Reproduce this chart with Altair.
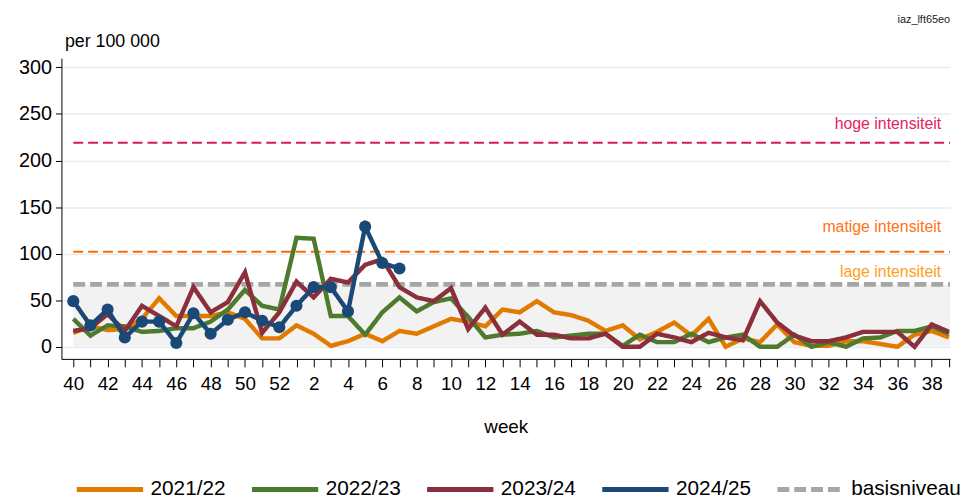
import altair as alt
import pandas as pd

# x positions: season weeks 40..52, 1..39
week_labels = [str(w) for w in list(range(40, 53)) + list(range(1, 40))]

s2122 = [15, 22, 18, 19, 30, 52, 33, 33, 33, 37, 30, 9, 9, 23, 14, 1, 6, 14, 6, 17,
         14, 22, 30, 27, 22, 40, 37, 49, 37, 34, 28, 17, 23, 8, 16, 26, 12, 30, 0, 9,
         5, 24, 5, 1, 1, 6, 6, 3, 0, 13, 17, 10]
s2223 = [30, 12, 23, 22, 16, 17, 20, 20, 27, 40, 61, 44, 40, 117, 116, 33, 33, 13, 37, 53,
         38, 48, 52, 32, 10, 13, 14, 17, 10, 12, 14, 14, 1, 13, 5, 5, 14, 5, 10, 13,
         0, 0, 13, 0, 5, 0, 9, 10, 17, 17, 22, 14]
s2324 = [17, 20, 35, 17, 44, 33, 22, 64, 37, 48, 80, 15, 37, 70, 53, 73, 69, 88, 94, 64,
         53, 49, 63, 19, 42, 13, 27, 13, 13, 9, 9, 14, 0, 0, 14, 10, 5, 15, 10, 7,
         49, 26, 12, 6, 6, 10, 16, 16, 16, 0, 24, 16]
s2425 = [49, 23, 40, 10, 27, 27, 4, 36, 14, 29, 37, 28, 21, 44, 64, 64, 38, 129, 90, 84]

series_names = ["2021/22", "2022/23", "2023/24", "2024/25"]
series_colors = ["#E07B00", "#4E7A2E", "#8A2F3B", "#1B4977"]
basis_name = "basisniveau"
basis_color = "#A6A6A6"

basis_value = 67
matig_value = 102
hoog_value = 219

rows = []
for name, vals in zip(series_names, [s2122, s2223, s2324, s2425]):
    for i, v in enumerate(vals):
        rows.append({"idx": i, "value": v, "series": name})
df = pd.DataFrame(rows)

XMIN, XMAX = -0.69, 51.07
W, H = 898, 304

x_scale = alt.Scale(domain=[XMIN, XMAX], nice=False, zero=False)
y_scale = alt.Scale(domain=[-13, 310], nice=False, zero=False)

label_list = [lab if i % 2 == 0 else "" for i, lab in enumerate(week_labels)]
label_expr = "[" + ",".join("'" + l + "'" for l in label_list) + "][datum.value]"

x_axis = alt.Axis(values=list(range(len(week_labels))), labelExpr=label_expr, title="week",
                  tickSize=8, labelFontSize=19, titleFontSize=19, titleFontWeight="normal",
                  grid=False, domainColor="black", tickColor="black", labelColor="black",
                  titleColor="black", labelPadding=8, titlePadding=24, labelFlush=False,
                  labelOverlap=False)
y_axis = alt.Axis(values=[0, 50, 100, 150, 200, 250, 300], title="per 100 000",
                  titleAngle=0, titleAlign="left", titleX=3, titleY=-12,
                  titleBaseline="alphabetic", titleFontSize=18, titleFontWeight="normal",
                  titleColor="black", grid=True, gridColor="#E6EDF2", gridWidth=1.5,
                  tickSize=6, labelFontSize=20, labelPadding=4, labelColor="black",
                  domainColor="black", tickColor="black")

legend_domain = series_names + [basis_name]
legend_range = series_colors + [basis_color]
dash_range = [[1, 0]] * 4 + [[12, 5]]

leg = alt.Legend(orient="none", legendX=13, legendY=400, direction="horizontal", columns=5,
                 gridAlign="each", symbolType="stroke", symbolSize=4489, symbolStrokeWidth=5,
                 labelFontSize=21, labelOffset=5, columnPadding=16, labelColor="black",
                 title=None, padding=0)

color_enc = alt.Color("series:N", scale=alt.Scale(domain=legend_domain, range=legend_range),
                      legend=leg, title=None)
dash_enc = alt.StrokeDash("series:N", scale=alt.Scale(domain=legend_domain, range=dash_range),
                          legend=leg, title=None)

band_df = pd.DataFrame({"x0": [0], "x1": [XMAX], "y0": [0], "y1": [basis_value]})
band = alt.Chart(band_df).mark_rect(color="#F2F2F2").encode(
    x=alt.X("x0:Q", scale=x_scale, axis=x_axis), x2="x1:Q",
    y=alt.Y("y0:Q", scale=y_scale, axis=y_axis), y2="y1:Q")


def thr_line(value, color):
    d = pd.DataFrame({"x0": [0], "x1": [XMAX], "v": [value]})
    return alt.Chart(d).mark_rule(strokeWidth=2, strokeDash=[10, 5], color=color).encode(
        x=alt.X("x0:Q", scale=x_scale, axis=x_axis), x2="x1:Q",
        y=alt.Y("v:Q", scale=y_scale, axis=y_axis))


thr_hoog = thr_line(hoog_value, "#D81B50")
thr_matig = thr_line(matig_value, "#FF6A00")

basis_df = pd.DataFrame({"x0": [0], "x1": [XMAX], "value": [basis_value], "series": [basis_name]})
basis = alt.Chart(basis_df).mark_rule(strokeWidth=5).encode(
    x=alt.X("x0:Q", scale=x_scale, axis=x_axis), x2="x1:Q",
    y=alt.Y("value:Q", scale=y_scale, axis=y_axis),
    color=color_enc, strokeDash=dash_enc)

lines = alt.Chart(df).mark_line(strokeWidth=4.5).encode(
    x=alt.X("idx:Q", scale=x_scale, axis=x_axis),
    y=alt.Y("value:Q", scale=y_scale, axis=y_axis),
    color=color_enc, strokeDash=dash_enc)

points = alt.Chart(df[df.series == "2024/25"]).mark_circle(size=150, opacity=1,
                                                           color="#1B4977").encode(
    x=alt.X("idx:Q", scale=x_scale, axis=x_axis),
    y=alt.Y("value:Q", scale=y_scale, axis=y_axis))


def thr_label(text, value, color, dy):
    d = pd.DataFrame({"v": [value], "t": [text]})
    return alt.Chart(d).mark_text(align="right", baseline="alphabetic", dy=dy, fontSize=16,
                                  color=color).encode(
        x=alt.value(889), y=alt.Y("v:Q", scale=y_scale, axis=y_axis), text="t:N")


lab_hoog = thr_label("hoge intensiteit", hoog_value, "#E2245E", -14)
lab_matig = thr_label("matige intensiteit", matig_value, "#FF7417", -20)
lab_laag = thr_label("lage intensiteit", basis_value, "#FFA020", -7)

code_df = pd.DataFrame({"t": ["iaz_lft65eo"]})
code = alt.Chart(code_df).mark_text(align="right", baseline="alphabetic", fontSize=11,
                                    color="#222222").encode(
    x=alt.value(898), y=alt.value(-35), text="t:N")

chart = alt.layer(band, thr_hoog, thr_matig, basis, lines, points,
                  lab_hoog, lab_matig, lab_laag, code).properties(
    width=W, height=H,
    autosize=alt.AutoSizeParams(type="none"),
    padding={"left": 54, "top": 48, "right": 10, "bottom": 138},
).configure(font="Liberation Sans").configure_view(stroke=None)

chart.save("out.html", embed_options={"renderer": "svg", "actions": False})
